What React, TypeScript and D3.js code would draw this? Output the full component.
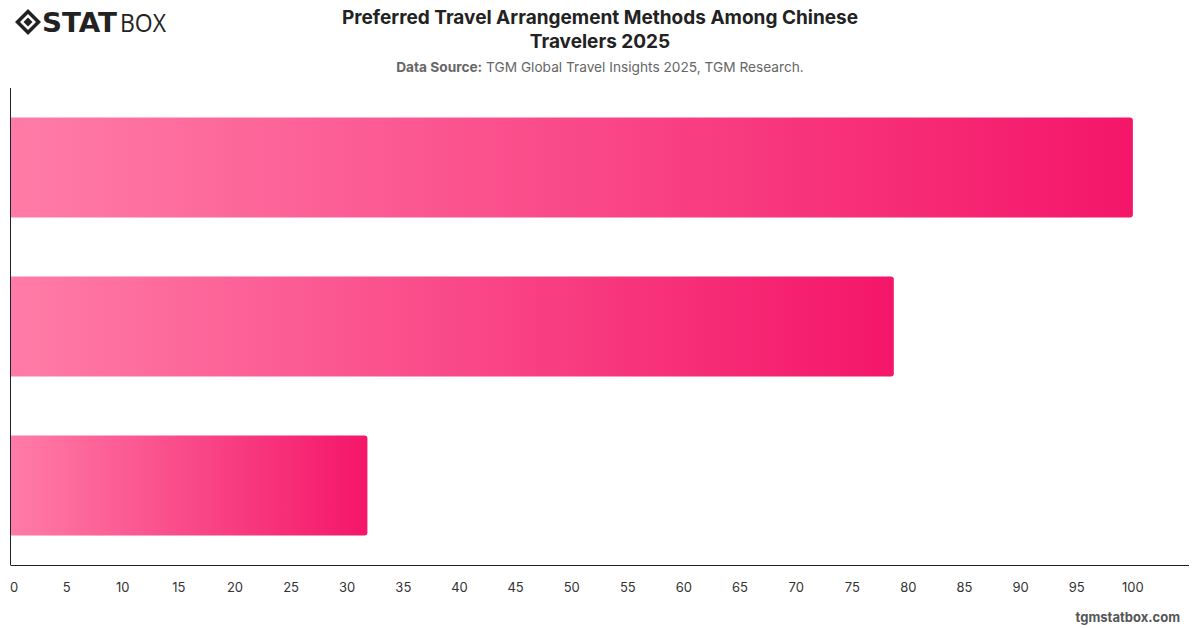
import React from "react";
import * as d3 from "d3";

const categories = ["Method A", "Method B", "Method C"];
const values = [100, 78.7, 31.8];
const xTicks = [0, 5, 10, 15, 20, 25, 30, 35, 40, 45, 50, 55, 60, 65, 70, 75, 80, 85, 90, 95, 100];

const W = 1200;
const H = 628;
const margin = { left: 10.5, right: 11, top: 88, bottom: 63 };

export default function App() {
  const x = d3.scaleLinear().domain([0, 105]).range([margin.left, W - margin.right]);
  const y = d3
    .scaleBand<string>()
    .domain(categories)
    .range([margin.top, H - margin.bottom])
    .paddingInner(0.37)
    .paddingOuter(0.185);
  const bh = y.bandwidth();
  const r = 3;
  const font = "Inter, 'Noto Sans', sans-serif";

  const barPath = (v: number, yy: number) => {
    const x0 = x(0);
    const x1 = x(v);
    const p = d3.path();
    p.moveTo(x0, yy);
    p.lineTo(x1 - r, yy);
    p.quadraticCurveTo(x1, yy, x1, yy + r);
    p.lineTo(x1, yy + bh - r);
    p.quadraticCurveTo(x1, yy + bh, x1 - r, yy + bh);
    p.lineTo(x0, yy + bh);
    p.closePath();
    return p.toString();
  };

  return (
    <svg width={W} height={H} style={{ position: "absolute", left: 0, top: 0, background: "#fff" }}>
      <defs>
        {values.map((v, i) => (
          <linearGradient key={i} id={`g${i}`} gradientUnits="userSpaceOnUse" x1={x(0)} x2={x(v)} y1={0} y2={0}>
            <stop offset="0%" stopColor="#FF7CA7" />
            <stop offset="100%" stopColor="#F41669" />
          </linearGradient>
        ))}
      </defs>
      <rect width={W} height={H} fill="#fff" />

      {/* Logo */}
      <g transform="translate(15,9)">
        <path d="M13 0 L26 13 L13 26 L0 13 Z" fill="#222" />
        <path d="M13 5 L21 13 L13 21 L5 13 Z" fill="#fff" />
        <path d="M13 8.5 L17.5 13 L13 17.5 L8.5 13 Z" fill="#222" />
        <text x={27} y={23} fontFamily="'DejaVu Sans', sans-serif" fontWeight={900} fontSize={26} fill="#222" letterSpacing={0} textLength={75} lengthAdjust="spacingAndGlyphs">
          STAT
        </text>
        <text x={105} y={23} fontFamily="'Open Sans', sans-serif" fontWeight={400} fontSize={25} fill="#222" textLength={46} lengthAdjust="spacingAndGlyphs">
          BOX
        </text>
      </g>

      {/* Title */}
      <text x={600} y={24} textAnchor="middle" fontFamily={font} fontWeight={700} fontSize={19} fill="#222">
        Preferred Travel Arrangement Methods Among Chinese
      </text>
      <text x={600} y={48} textAnchor="middle" fontFamily={font} fontWeight={700} fontSize={19} fill="#222">
        Travelers 2025
      </text>
      <text x={600} y={72} textAnchor="middle" fontFamily={font} fontSize={13.7} fill="#666">
        <tspan fontWeight={700}>Data Source:</tspan>
        <tspan> TGM Global Travel Insights 2025, TGM Research.</tspan>
      </text>

      {/* Bars */}
      {values.map((v, i) => (
        <path key={i} d={barPath(v, y(categories[i])!)} fill={`url(#g${i})`} />
      ))}

      {/* Axes */}
      <line x1={margin.left} x2={margin.left} y1={margin.top} y2={H - margin.bottom} stroke="#222" strokeWidth={1} />
      <line x1={margin.left} x2={W - margin.right} y1={H - margin.bottom + 0.5} y2={H - margin.bottom + 0.5} stroke="#222" strokeWidth={1} />
      {xTicks.map((t) => (
        <text
          key={t}
          x={t === 0 ? x(t) + 3.5 : x(t)}
          y={592}
          textAnchor="middle"
          fontFamily={font}
          fontSize={13}
          fill="#333"
        >
          {t}
        </text>
      ))}

      {/* Footer */}
      <text x={1180} y={622} textAnchor="end" fontFamily={font} fontWeight={700} fontSize={13} fill="#555">
        tgmstatbox.com
      </text>
    </svg>
  );
}
